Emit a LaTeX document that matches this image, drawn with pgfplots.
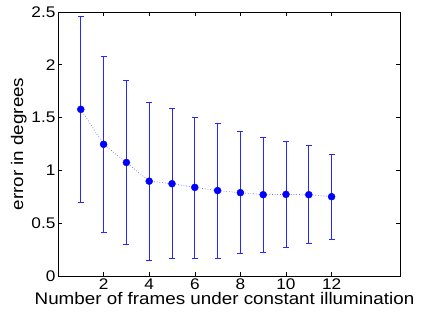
\documentclass[border=0pt]{standalone}
\usepackage{fontspec}
\setmainfont{Liberation Sans}[FakeStretch=1.12]
\usepackage{pgfplots}
\pgfplotsset{compat=1.18}
\begin{document}
\begin{tikzpicture}
\useasboundingbox (-58pt,-44pt) rectangle (363pt,276pt);
\begin{axis}[
  name=ax,
  at={(0,0)}, anchor=south west,
  width=342pt, height=264pt, scale only axis,
  xmin=0, xmax=15, ymin=0, ymax=2.5,
  xtick={2,4,...,12},
  ytick={0,0.5,...,2.5},
  tick align=inside, tick pos=both,
  major tick length=4pt,
  axis line style={black, line width=0.7pt},
  every tick/.style={black, line width=0.6pt},
  /pgf/number format/assume math mode=true,
  tick label style={font=\fontsize{15.4}{18}\selectfont},
  label style={font=\fontsize{16.8}{20}\selectfont},
  xlabel={Number of frames under constant illumination},
  ylabel={error in degrees},
  xlabel style={yshift=4pt, xshift=-4.5pt},
  ylabel style={yshift=-2pt},
  yticklabel style={xshift=1pt},
  xticklabel style={yshift=1pt},
]
\addplot[blue!60, dotted, line width=0.7pt] coordinates {
(1,1.578) (2,1.247) (3,1.075) (4,0.898) (5,0.874) (6,0.839)
(7,0.809) (8,0.789) (9,0.770) (10,0.773) (11,0.770) (12,0.751)
};
\addplot[only marks, blue, mark=*, mark size=3.5pt,
  error bars/.cd, y dir=both, y explicit,
  error bar style={blue!85, line width=0.7pt},
  error mark options={rotate=90, mark size=3pt, blue!85, line width=0.7pt}]
coordinates {
(1,1.578) +- (0,0.882)
(2,1.247) +- (0,0.836)
(3,1.075) +- (0,0.780)
(4,0.898) +- (0,0.750)
(5,0.874) +- (0,0.709)
(6,0.839) +- (0,0.668)
(7,0.809) +- (0,0.638)
(8,0.789) +- (0,0.577)
(9,0.770) +- (0,0.545)
(10,0.773) +- (0,0.504)
(11,0.770) +- (0,0.463)
(12,0.751) +- (0,0.400)
};
\end{axis}
\end{tikzpicture}
\end{document}
